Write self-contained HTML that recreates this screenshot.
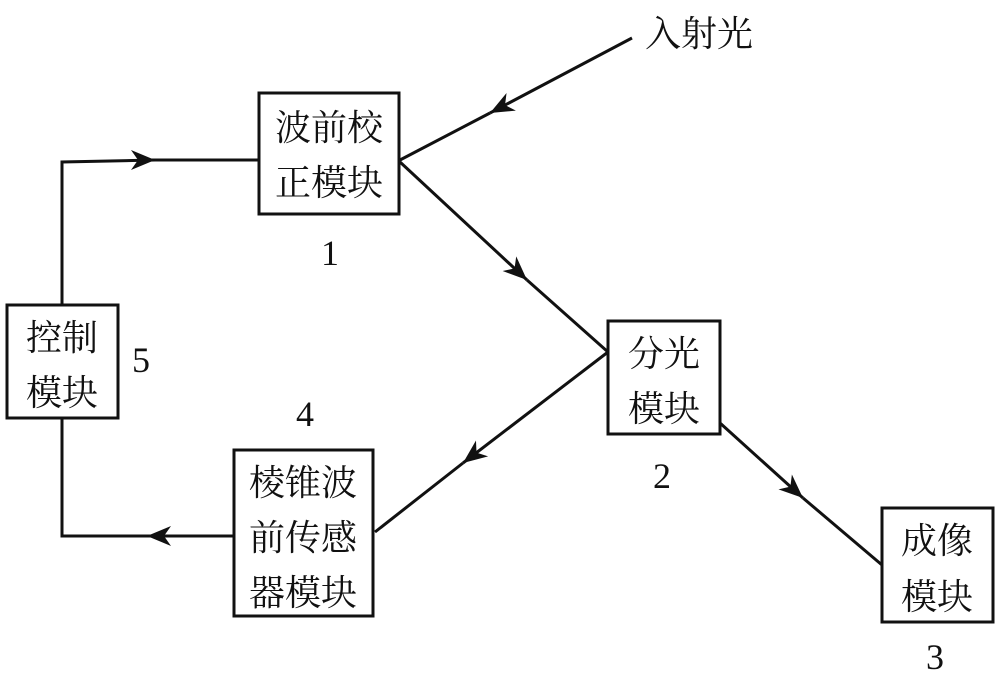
<!DOCTYPE html>
<html><head><meta charset="utf-8"><style>
html,body{margin:0;padding:0;background:#fff;}
svg{display:block;}
.t{font-family:"Noto Serif CJK SC","Liberation Serif",serif;font-size:36px;fill:#111;}
.n{font-family:"Liberation Serif",serif;font-size:36px;fill:#111;}
</style></head><body>
<svg width="1000" height="675" viewBox="0 0 1000 675" xmlns="http://www.w3.org/2000/svg">
<defs>
<marker id="a" markerWidth="34" markerHeight="26" refX="24" refY="13" orient="auto" markerUnits="userSpaceOnUse">
<path d="M0,3 L24,13 L0,23 L7,13 Z" fill="#111"/>
</marker>
</defs>
<g stroke="#111" stroke-width="3" fill="none">
<rect x="259" y="93" width="140" height="121"/>
<rect x="608" y="321" width="112" height="113"/>
<rect x="882" y="508" width="111" height="114"/>
<rect x="7" y="305" width="111" height="113"/>
<rect x="234" y="450" width="139" height="166"/>
<line x1="632" y1="38" x2="490" y2="113" marker-end="url(#a)"/>
<line x1="490" y1="113" x2="400" y2="160"/>
<line x1="400" y1="162" x2="527" y2="280" marker-end="url(#a)"/>
<line x1="527" y1="280" x2="608" y2="352"/>
<line x1="608" y1="352" x2="463" y2="463" marker-end="url(#a)"/>
<line x1="463" y1="463" x2="375" y2="532"/>
<line x1="720" y1="423" x2="803" y2="498" marker-end="url(#a)"/>
<line x1="803" y1="498" x2="882" y2="565"/>
<polyline points="62,305 62,162 155,160"/>
<line x1="140" y1="160" x2="155" y2="160" marker-end="url(#a)"/>
<line x1="155" y1="160" x2="259" y2="160"/>
<line x1="234" y1="536" x2="147" y2="536" marker-end="url(#a)"/>
<polyline points="147,536 62,536 62,418"/>
</g>
<text class="t" x="645" y="46">入射光</text>
<text class="t" x="329" y="140" text-anchor="middle">波前校</text>
<text class="t" x="329" y="195" text-anchor="middle">正模块</text>
<text class="t" x="664" y="366" text-anchor="middle">分光</text>
<text class="t" x="664" y="421" text-anchor="middle">模块</text>
<text class="t" x="937" y="553" text-anchor="middle">成像</text>
<text class="t" x="937" y="609" text-anchor="middle">模块</text>
<text class="t" x="62" y="350" text-anchor="middle">控制</text>
<text class="t" x="62" y="405" text-anchor="middle">模块</text>
<text class="t" x="303" y="495" text-anchor="middle">棱锥波</text>
<text class="t" x="303" y="550" text-anchor="middle">前传感</text>
<text class="t" x="303" y="605" text-anchor="middle">器模块</text>
<text class="n" x="330" y="265" text-anchor="middle">1</text>
<text class="n" x="662" y="488" text-anchor="middle">2</text>
<text class="n" x="935" y="669" text-anchor="middle">3</text>
<text class="n" x="305" y="426" text-anchor="middle">4</text>
<text class="n" x="141" y="372" text-anchor="middle">5</text>
</svg>
</body></html>
